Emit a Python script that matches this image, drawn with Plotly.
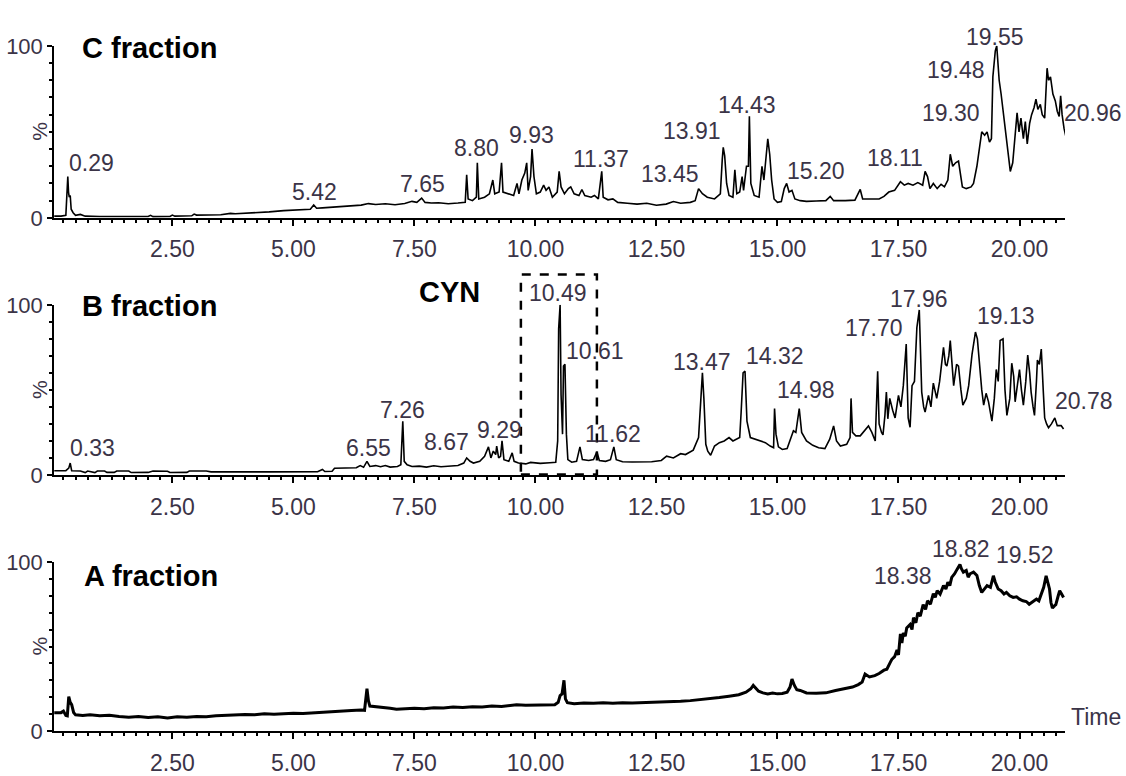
import plotly.graph_objects as go

# ---------------- data ----------------
c_time = [0.06, 0.20, 0.30, 0.32, 0.34, 0.355, 0.37, 0.39, 0.41, 0.45, 0.50, 0.60, 0.70, 1.00, 1.50, 2.00, 2.05, 2.10,
          2.45, 2.50, 2.55, 2.90, 2.95, 3.00, 3.50, 3.70, 3.80, 4.20, 4.50, 4.80, 5.00, 5.20, 5.35, 5.42, 5.48, 5.60,
          5.80, 6.00, 6.20, 6.40, 6.55, 6.70, 6.90, 7.10, 7.30, 7.45, 7.55, 7.65, 7.72, 7.85, 8.00, 8.20, 8.40, 8.55,
          8.58, 8.61, 8.70, 8.78, 8.80, 8.83, 8.95, 9.05, 9.12, 9.16, 9.25, 9.30, 9.33, 9.45, 9.55, 9.62, 9.66, 9.72,
          9.78, 9.82, 9.85, 9.90, 9.93, 9.97, 10.02, 10.10, 10.17, 10.22, 10.28, 10.35, 10.45, 10.49, 10.53, 10.60,
          10.68, 10.73, 10.80, 10.90, 10.96, 11.02, 11.15, 11.22, 11.30, 11.34, 11.37, 11.40, 11.50, 11.60, 11.70,
          11.90, 12.10, 12.30, 12.50, 12.70, 12.85, 13.00, 13.20, 13.30, 13.37, 13.45, 13.55, 13.70, 13.82, 13.86,
          13.88, 13.91, 13.95, 14.00, 14.08, 14.12, 14.16, 14.22, 14.27, 14.30, 14.36, 14.40, 14.42, 14.45, 14.52,
          14.62, 14.68, 14.72, 14.77, 14.80, 14.84, 14.88, 14.93, 15.00, 15.08, 15.14, 15.19, 15.24, 15.30, 15.36,
          15.47, 15.60, 15.80, 16.00, 16.09, 16.16, 16.40, 16.60, 16.71, 16.76, 16.90, 17.10, 17.20, 17.30, 17.42,
          17.54, 17.62, 17.70, 17.80, 17.90, 18.00, 18.05, 18.10, 18.15, 18.22, 18.30, 18.38, 18.45, 18.52, 18.57,
          18.62, 18.68, 18.74, 18.78, 18.82, 18.90, 19.00, 19.05, 19.12, 19.18, 19.22, 19.28, 19.33, 19.38, 19.42,
          19.45, 19.50, 19.53, 19.58, 19.62, 19.67, 19.72, 19.77, 19.81, 19.86, 19.90, 19.95, 19.99, 20.03, 20.08,
          20.12, 20.16, 20.21, 20.25, 20.30, 20.34, 20.38, 20.43, 20.47, 20.52, 20.57, 20.60, 20.64, 20.69, 20.74,
          20.78, 20.82, 20.85, 20.88, 20.92, 20.96]
c_pct = [1.0, 1.0, 1.5, 18, 24, 15, 12, 13, 5, 3, 1.5, 2, 1, 0.8, 0.6, 0.8, 1.5, 0.7,
         0.8, 1.6, 1.0, 1.2, 2.2, 1.6, 1.8, 2.6, 2.4, 2.8, 3.5, 4.2, 4.5, 5.2, 5.0, 7.5, 5.6, 5.8,
         6.2, 6.6, 7.0, 7.4, 8.3, 7.8, 8.2, 7.6, 8.4, 9.6, 9.0, 11.5, 9.0, 8.6, 8.8, 8.2, 8.6, 9.0,
         25, 11, 10, 12, 32, 11, 12, 14, 22, 14, 15, 32, 15, 14, 13, 20, 14, 22,
         26, 32, 16, 24, 40, 24, 14, 15, 19, 16, 18, 12, 15, 27, 18, 14,
         17, 18, 14, 13, 16.5, 13, 12, 13, 11, 20, 27, 12, 10.5, 11, 9,
         8.5, 8, 8.5, 7.3, 8, 9.5, 8.5, 9, 10, 17, 14, 12, 11, 14, 34,
         41, 36, 20, 13, 12, 28, 14, 15, 24, 16, 30, 30, 59, 20, 13,
         12, 30, 22, 40, 46, 37, 22, 11, 9, 9.5, 17, 20, 15, 16, 11,
         10, 9.6, 9.8, 10, 12.5, 10, 10, 10.3, 16.5, 11, 11, 11, 12.5, 15, 16,
         21, 19, 20, 19, 20.5, 19, 27, 24, 17, 20, 17, 19.5, 18, 22, 37,
         30, 32, 33, 25, 18, 17, 18, 20, 30, 42, 50, 48, 50, 44, 46,
         82, 97, 100, 80, 72, 60, 48, 35, 27, 32, 45, 61, 50, 58, 46,
         56, 43, 55, 60, 64, 69, 63, 66, 60, 58, 87, 80, 82, 72, 68,
         62, 59, 71, 60, 52, 47]

b_time = [0.06, 0.30, 0.36, 0.39, 0.42, 0.60, 0.70, 0.75, 0.90, 0.95, 1.10, 1.15, 1.30, 1.35, 1.60, 1.65, 2.00, 2.10,
          2.40, 2.45, 2.80, 2.85, 3.20, 3.30, 4.50, 5.50, 5.60, 5.65, 5.80, 5.85, 6.30, 6.38, 6.45, 6.52, 6.58, 6.70,
          6.80, 6.90, 7.00, 7.15, 7.22, 7.26, 7.29, 7.35, 7.45, 7.60, 7.75, 7.90, 8.05, 8.20, 8.40, 8.52, 8.58, 8.65,
          8.72, 8.85, 8.95, 9.03, 9.08, 9.13, 9.18, 9.20, 9.24, 9.28, 9.31, 9.35, 9.45, 9.52, 9.56, 9.65, 9.80, 9.90,
          10.10, 10.30, 10.42, 10.46, 10.48, 10.51, 10.53, 10.56, 10.58, 10.61, 10.64, 10.67, 10.75, 10.85, 10.92,
          10.97, 11.10, 11.20, 11.27, 11.32, 11.45, 11.55, 11.62, 11.67, 11.80, 12.00, 12.20, 12.40, 12.60, 12.71,
          12.85, 13.00, 13.10, 13.26, 13.37, 13.42, 13.45, 13.48, 13.52, 13.56, 13.62, 13.70, 13.80, 13.90, 14.00,
          14.08, 14.15, 14.22, 14.25, 14.29, 14.33, 14.37, 14.44, 14.55, 14.65, 14.75, 14.85, 14.92, 14.94, 14.97,
          15.02, 15.10, 15.20, 15.28, 15.33, 15.38, 15.45, 15.50, 15.60, 15.73, 15.85, 15.98, 16.08, 16.16, 16.22,
          16.30, 16.43, 16.50, 16.52, 16.55, 16.62, 16.71, 16.80, 16.88, 16.95, 17.02, 17.07, 17.10, 17.15, 17.18,
          17.22, 17.25, 17.28, 17.32, 17.38, 17.43, 17.50, 17.55, 17.60, 17.66, 17.70, 17.74, 17.78, 17.83, 17.88,
          17.93, 17.98, 18.02, 18.05, 18.12, 18.17, 18.22, 18.29, 18.35, 18.43, 18.47, 18.50, 18.54, 18.57, 18.61,
          18.64, 18.70, 18.74, 18.79, 18.83, 18.90, 18.95, 19.02, 19.09, 19.13, 19.16, 19.22, 19.26, 19.31, 19.36,
          19.43, 19.48, 19.52, 19.56, 19.60, 19.66, 19.70, 19.74, 19.80, 19.84, 19.88, 19.91, 19.96, 20.00, 20.04,
          20.08, 20.13, 20.17, 20.21, 20.24, 20.28, 20.31, 20.35, 20.37, 20.41, 20.45, 20.49, 20.52, 20.56, 20.60,
          20.66, 20.70, 20.73, 20.78, 20.82, 20.86, 20.91]
b_pct = [2.5, 2.5, 4, 7, 2.5, 2.3, 1.4, 2.3, 1.4, 2.3, 2.3, 1.5, 1.5, 2.3, 2.3, 1.4, 1.5, 2.3,
         2.2, 1.4, 1.5, 2.3, 2.3, 1.8, 1.8, 1.9, 3.2, 2, 2.2, 3.9, 4.2, 5.5, 4.5, 8, 5, 5.5,
         4.8, 5.5, 4.6, 5, 6, 31.6, 8, 6, 5, 5.2, 4.6, 5.4, 4.8, 5.2, 5.6, 7, 10, 8,
         7, 8, 11, 16.5, 10, 14, 12, 17, 10, 11, 20, 9, 8, 13, 8, 7, 6.5, 7.4,
         6.8, 7.2, 7.5, 20, 86, 100, 47, 24, 64, 65, 24, 9, 7.5, 8, 16.5,
         9, 8.5, 9, 13.6, 8.5, 8, 9, 16.5, 9, 7.8, 7.6, 7.5, 7.8, 8.5, 11,
         10, 12.5, 12, 14.6, 22, 50, 60, 45, 18, 14, 11.6, 17, 19, 20, 22,
         20, 21, 22, 37, 60, 61, 31.6, 22, 21, 20, 19, 17, 16, 39, 24,
         16.5, 15, 15.5, 22, 26, 25, 39, 25, 20, 17.4, 16, 15.5, 21, 28.8, 20,
         17, 18, 22, 45, 25, 23, 23, 26, 28.8, 25, 20, 61, 30, 25, 23.6,
         35, 48.7, 33, 45, 38, 33.5, 46.8, 40, 52.5, 77, 33.5, 28, 52.5, 55, 86.6,
         97, 48.7, 40, 37, 46.8, 40, 54, 45, 55, 75, 65, 64, 70, 79, 60,
         52.5, 65, 64, 50, 41, 45, 52.5, 71, 84, 80, 69, 50, 41, 48, 43,
         31.6, 45, 62, 55, 79, 80, 50, 35, 45, 65.7, 58, 43, 55, 62, 50,
         41, 55, 70.5, 60, 48.7, 40, 35, 55, 67.6, 65, 74, 50, 33.5, 30, 27.8,
         30, 32, 33.5, 29, 28.8, 29, 27]

a_time = [0.06, 0.20, 0.25, 0.30, 0.33, 0.36, 0.39, 0.42, 0.46, 0.50, 0.65, 0.80, 1.00, 1.20, 1.40, 1.60, 1.80, 2.00,
          2.20, 2.40, 2.60, 2.80, 3.00, 3.20, 3.40, 3.60, 3.80, 4.00, 4.20, 4.40, 4.60, 4.80, 5.00, 5.20, 5.40, 5.60,
          5.80, 6.00, 6.20, 6.40, 6.47, 6.52, 6.55, 6.58, 6.70, 6.86, 7.00, 7.13, 7.30, 7.50, 7.70, 7.90, 8.10, 8.30,
          8.50, 8.70, 8.90, 9.10, 9.30, 9.50, 9.61, 9.80, 10.00, 10.20, 10.40, 10.47, 10.51, 10.55, 10.59, 10.62,
          10.66, 10.80, 11.00, 11.20, 11.40, 11.60, 11.80, 12.00, 12.20, 12.40, 12.60, 12.80, 13.00, 13.20, 13.40,
          13.60, 13.80, 14.00, 14.20, 14.35, 14.45, 14.50, 14.56, 14.61, 14.70, 14.80, 14.90, 15.00, 15.10, 15.20,
          15.26, 15.30, 15.35, 15.40, 15.47, 15.60, 15.80, 16.00, 16.20, 16.40, 16.55, 16.67, 16.75, 16.81, 16.90,
          17.01, 17.10, 17.20, 17.26, 17.32, 17.36, 17.42, 17.47, 17.50, 17.54, 17.57, 17.60, 17.64, 17.67, 17.74,
          17.78, 17.81, 17.86, 17.90, 17.95, 18.01, 18.06, 18.10, 18.16, 18.22, 18.26, 18.30, 18.36, 18.43, 18.48,
          18.52, 18.56, 18.60, 18.66, 18.71, 18.77, 18.80, 18.84, 18.90, 18.94, 18.98, 19.05, 19.12, 19.17, 19.22,
          19.27, 19.33, 19.40, 19.46, 19.50, 19.56, 19.62, 19.68, 19.73, 19.80, 19.87, 19.94, 20.00, 20.07, 20.14,
          20.20, 20.28, 20.35, 20.40, 20.45, 20.50, 20.55, 20.59, 20.62, 20.65, 20.68, 20.72, 20.75, 20.80, 20.83,
          20.87, 20.91]
a_pct = [10.9, 10.9, 11.8, 9.2, 9, 20.4, 17, 15.6, 11, 9.6, 9.2, 9.6, 9, 9.3, 8.6, 8.2, 8.6, 8.0,
         8.4, 7.8, 8.4, 8.2, 8.6, 8.4, 9.0, 9.3, 9.5, 9.8, 9.6, 10.2, 10.0, 10.5, 10.6, 10.4, 10.8, 11.2,
         11.8, 12.0, 12.2, 12.5, 12.3, 25, 18, 14.8, 14.5, 14.2, 13.5, 12.9, 13.2, 13.5, 13.2, 13.8, 13.6, 14.2,
         13.9, 14.4, 14.2, 14.8, 14.6, 15.2, 15.6, 15.3, 15.5, 15.8, 15.6, 17, 21, 22, 30, 19,
         16.8, 16.2, 16.6, 16.4, 16.8, 16.4, 16.8, 16.6, 16.8, 16.6, 17, 17.2, 17.6, 18, 18.5,
         19.2, 19.8, 20.6, 21.5, 23, 25, 27, 25, 23.6, 22.6, 22, 22.5, 22, 22.2, 23,
         26, 30.8, 27, 24.5, 24, 22.5, 22.3, 22.6, 24, 25, 26, 27.5, 29, 33.7, 32,
         32.8, 34, 36, 36.6, 40, 42.3, 44, 48, 45, 57.5, 52, 58, 56, 61, 63,
         60, 67, 64, 70, 68, 74.7, 72, 77, 75, 81.3, 79, 83, 81, 86, 84,
         88, 86, 90.9, 93, 95.6, 98.5, 96, 94, 95, 91, 93, 94, 92, 86, 82,
         84, 86, 85, 91.8, 88, 84, 83, 81, 82, 80, 79, 79.4, 78, 77, 76.6,
         75, 76.6, 78, 77, 81.3, 85, 91.8, 88, 84, 76, 72.7, 74, 74.7, 80, 83,
         81, 79]

panel_titles = ["C fraction", "B fraction", "A fraction"]
c_peak_labels = ["0.29", "5.42", "7.65", "8.80", "9.93", "11.37", "13.45", "13.91", "14.43", "15.20",
                 "18.11", "19.30", "19.48", "19.55", "20.96"]
b_peak_labels = ["0.33", "6.55", "7.26", "8.67", "9.29", "10.49", "10.61", "11.62", "13.47", "14.32",
                 "14.98", "17.70", "17.96", "19.13", "20.78"]
a_peak_labels = ["18.38", "18.82", "19.52"]
box_label = "CYN"
box_time = [9.70, 11.27]

# ---------------- layout helpers (pixel positions of the page) ----------------
W, H = 1126, 776
def px(x):
    return x / W
def py(y):
    return 1 - y / H

# label centres in page pixels
c_label_pos = [(91, 156), (314, 186), (422, 178), (476, 141), (531, 127), (601, 152), (670, 168), (692, 123),
               (747, 96), (816, 164), (895, 151), (951, 104), (956, 60), (995, 26), (1093, 104)]
b_label_pos = [(92, 451), (368, 451), (402, 412), (446, 445), (499, 432), (558, 291), (595, 351), (613, 437),
               (702, 362), (775, 356), (806, 391), (874, 327), (919, 297), (1006, 315), (1084, 402)]
a_label_pos = [(903, 584), (961, 556), (1025, 562)]

panels = [  # (top px, bottom px)
    (35, 213), (303, 479), (569, 744)
]
x_left, x_right = 54, 1065

TXT = "#3b3447"
FONT = "Arial, Liberation Sans, sans-serif"

fig = go.Figure()
series = [(c_time, c_pct, 1.6), (b_time, b_pct, 1.6), (a_time, a_pct, 3.0)]
for i, (t, v, w) in enumerate(series):
    n = "" if i == 0 else str(i + 1)
    fig.add_trace(go.Scatter(x=t, y=v, mode="lines", line=dict(color="black", width=w),
                             xaxis="x" + n, yaxis="y" + n, showlegend=False, hoverinfo="skip"))

layout = dict(width=W, height=H, margin=dict(l=0, r=0, t=0, b=0),
              paper_bgcolor="white", plot_bgcolor="white", showlegend=False,
              font=dict(family=FONT, color=TXT))
for i, (top, bot) in enumerate(panels):
    n = "" if i == 0 else str(i + 1)
    layout["xaxis" + n] = dict(
        domain=[px(x_left), px(x_right)], anchor="y" + n, range=[0.055, 20.94],
        showline=True, linecolor="black", linewidth=2, showgrid=False, zeroline=False,
        tickmode="linear", tick0=0, dtick=2.5, tickformat=".2f",
        ticks="outside", ticklen=6, tickwidth=1.5, tickcolor="black", ticklabelstandoff=4,
        tickfont=dict(size=23, color=TXT, family=FONT),
        minor=dict(tickmode="linear", tick0=0, dtick=0.25, ticks="outside", ticklen=3,
                   tickwidth=1.5, tickcolor="black", showgrid=False),
    )
    layout["yaxis" + n] = dict(
        domain=[py(bot), py(top)], anchor="x" + n, range=[0, 100],
        showline=True, linecolor="black", linewidth=1.5, showgrid=False, zeroline=False,
        tickmode="linear", tick0=0, dtick=100,
        ticks="outside", ticklen=5, tickwidth=1.5, tickcolor="black",
        tickfont=dict(size=22, color=TXT, family=FONT),
        minor=dict(tickmode="linear", tick0=0, dtick=10, ticks="outside", ticklen=3,
                   tickwidth=1.5, tickcolor="black", showgrid=False),
    )

ann = []
# panel titles
title_pos = [(80, 37), (80, 304), (82, 584)]
for txt, (x, y) in zip(panel_titles, title_pos):
    ann.append(dict(text="<b>" + txt + "</b>", x=px(x), y=py(y), xref="paper", yref="paper",
                    xanchor="left", yanchor="middle", showarrow=False,
                    font=dict(size=29, color="black", family=FONT)))
# % labels
for top, bot in panels:
    ann.append(dict(text="%", x=px(40), y=py((top + bot) / 2), xref="paper", yref="paper",
                    xanchor="center", yanchor="middle",
                    textangle=-90, showarrow=False, font=dict(size=21, color=TXT, family=FONT)))
# peak labels
for labels, poss in [(c_peak_labels, c_label_pos), (b_peak_labels, b_label_pos), (a_peak_labels, a_label_pos)]:
    for txt, (x, y) in zip(labels, poss):
        ann.append(dict(text=txt, x=px(x), y=py(y), xref="paper", yref="paper",
                        xanchor="center", yanchor="middle", showarrow=False,
                        font=dict(size=23, color=TXT, family=FONT)))
# CYN
ann.append(dict(text="<b>" + box_label + "</b>", x=px(449), y=py(290), xref="paper", yref="paper",
                showarrow=False, font=dict(size=29, color="black", family=FONT)))
# Time
ann.append(dict(text="Time", x=px(1069), y=py(745), xref="paper", yref="paper", xanchor="left",
                showarrow=False, font=dict(size=23, color=TXT, family=FONT)))
layout["annotations"] = ann

layout["shapes"] = [dict(type="rect", xref="x2", yref="paper", x0=box_time[0], x1=box_time[1],
                         y0=py(478.5), y1=py(271.7), line=dict(color="black", width=2.5, dash="dash"),
                         fillcolor="rgba(0,0,0,0)")]

fig.update_layout(**layout)
# remove the browser's default 8px page margin so the figure fills the window exactly
fig.write_html("out.html", config={"displayModeBar": False},
               post_script="document.body.style.margin='0px';")
